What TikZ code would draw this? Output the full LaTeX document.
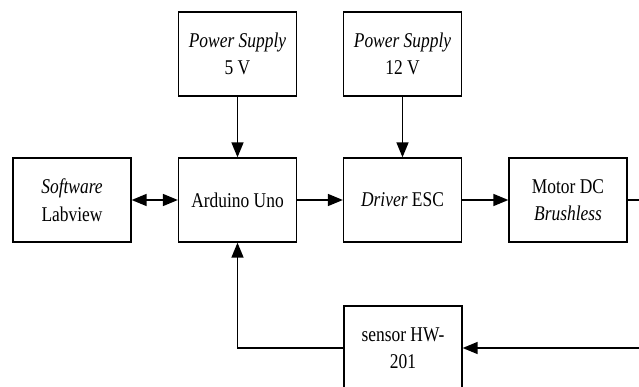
\documentclass[tikz,border=0pt]{standalone}
\usepackage{fontspec}
\setmainfont[FakeStretch=0.83]{Liberation Serif}
\usetikzlibrary{arrows.meta}
\begin{document}
\begin{tikzpicture}[x=1pt,y=-1pt,
  blk/.style={draw=black,line width=1.3pt,minimum width=118pt,minimum height=84pt,
    align=center,inner sep=0pt,font=\fontsize{21}{27.5}\selectfont},
  tip/.style={Triangle[length=15pt,width=12pt]},
  conn/.style={line width=1.5pt,-{Triangle[length=15pt,width=12pt]}}]
\useasboundingbox (0,0) rectangle (639,387);
\clip (0,0) rectangle (639,387);
\fill[white] (0,0) rectangle (639,387);
\node[blk] (ps5) at (237.5,54) {\textit{Power Supply}\\5 V};
\node[blk] (ps12) at (402.5,54) {\textit{Power Supply}\\12 V};
\node[blk] (sw) at (72,200) {\textit{Software}\\Labview};
\node[blk] (ard) at (237.5,200) {Arduino Uno};
\node[blk] (drv) at (402.5,200) {\textit{Driver} ESC};
\node[blk] (mot) at (568,200) {Motor DC\\\textit{Brushless}};
\node[blk] (sen) at (403,348) {sensor HW-\\201};
\coordinate (rr) at (660,270);
\draw[conn] (ps5) -- (ard);
\draw[conn] (ps12) -- (drv);
\draw[line width=1.5pt,{Triangle[length=15pt,width=12pt]}-{Triangle[length=15pt,width=12pt]}] (sw) -- (ard);
\draw[conn] (ard) -- (drv);
\draw[conn] (drv) -- (mot);
\draw[conn] (mot.east) -| (rr) |- (sen.east);
\draw[conn] (sen.west) -| (ard.south);
\end{tikzpicture}
\end{document}
